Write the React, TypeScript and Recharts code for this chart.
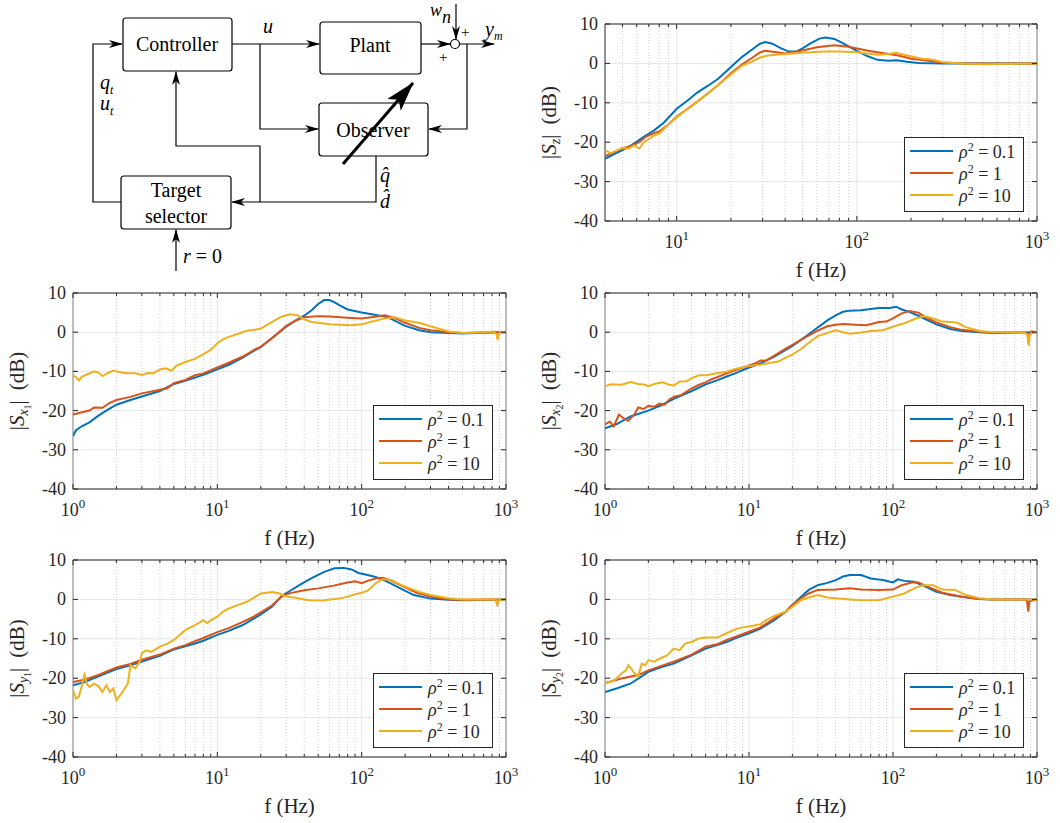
import React from 'react'
import { LineChart, Line, XAxis, YAxis, CartesianGrid, ReferenceLine, ReferenceArea, Legend } from 'recharts'

type Pt = [number, number]

const COLORS = ['#0072BD', '#D95319', '#EDB120']
const RHO = ['0.1', '1', '10']
const Y_TICKS = [-40, -30, -20, -10, 0, 10]
const X_MAJOR_FULL = [1, 10, 100, 1000]
const X_MAJOR_SZ = [10, 100, 1000]
const MINOR_FULL = [2, 3, 4, 5, 6, 7, 8, 9, 20, 30, 40, 50, 60, 70, 80, 90, 200, 300, 400, 500, 600, 700, 800, 900]
const MINOR_SZ = [5, 6, 7, 8, 9, 20, 30, 40, 50, 60, 70, 80, 90, 200, 300, 400, 500, 600, 700, 800, 900]

// |S_z|
const SZ_01: Pt[] = [[4,-24.2],[4.5,-23],[5,-22],[5.6,-20.8],[6.6,-18.6],[7.5,-17],[8.5,-15],[10,-11.5],[11.5,-9.4],[13,-7.4],[15,-5.6],[17,-3.9],[20,-0.9],[23,1.6],[26,3.4],[29,5],[31,5.4],[34,5],[38,3.8],[42,3],[46,3],[50,3.8],[55,5],[62,6.3],[67,6.6],[75,6.2],[83,5.2],[100,3.2],[115,1.8],[130,0.9],[150,0.7],[166,0.8],[190,0.4],[220,0.1],[300,0],[500,0],[1000,0]]
const SZ_1: Pt[] = [[4,-23.5],[4.5,-22.5],[5,-21.5],[5.6,-21],[6.2,-20],[6.8,-18.5],[7.5,-17.7],[8,-17.3],[9,-15.5],[10,-13.5],[11.5,-11.5],[13,-9.7],[15,-7.5],[17,-5.5],[20,-2.5],[23,-0.3],[26,1.3],[29,2.8],[31,3.2],[35,2.9],[40,2.5],[50,3.3],[60,4.1],[75,4.6],[90,4.2],[100,3.8],[120,3.1],[150,2.4],[170,2],[200,1.2],[250,0.7],[300,0.2],[400,0],[1000,0]]
const SZ_10: Pt[] = [[4,-22],[4.3,-22.8],[4.6,-22.2],[5,-21.5],[5.4,-21.6],[5.8,-20.8],[6.2,-21.6],[6.6,-20],[7,-19.2],[7.5,-18.3],[8,-17.8],[9,-15.5],[10,-13.7],[11,-12.2],[12,-11],[13,-9.7],[15,-7.5],[17,-5.5],[20,-2.8],[23,-0.6],[26,0.4],[29,1.5],[32,2],[40,2.4],[50,2.7],[65,3],[80,3],[100,2.8],[130,2.2],[150,2.4],[165,2.7],[190,2],[230,1.2],[260,1],[300,0.3],[400,-0.1],[500,-0.2],[1000,0]]

// |S_x1|
const SX1_01: Pt[] = [[1,-26.5],[1.05,-25],[1.15,-24],[1.3,-23],[1.5,-21.3],[1.7,-20],[2,-18.5],[2.5,-17.3],[3,-16.4],[4,-15],[5,-13.2],[6,-12.4],[7,-11.6],[8,-10.9],[10,-9.5],[12,-8.3],[15,-6.5],[18,-4.7],[20,-3.8],[25,-0.9],[30,1.4],[35,3],[40,4.2],[45,5.6],[50,7.2],[55,8.2],[60,8.2],[65,7.6],[70,6.9],[80,5.8],[100,5],[120,4.5],[140,4.1],[160,3.4],[200,1.6],[250,0.5],[300,0],[500,-0.3],[800,0],[1000,0]]
const SX1_1: Pt[] = [[1,-21],[1.1,-20.6],[1.3,-20],[1.4,-19.2],[1.6,-19.3],[1.8,-18],[2,-17.3],[2.5,-16.5],[3,-15.6],[4,-14.7],[4.5,-14.3],[5,-13],[6,-12.2],[7,-11],[8,-10.5],[10,-9],[12,-7.8],[15,-6.2],[18,-4.5],[20,-3.7],[25,-1],[30,1.6],[35,3],[40,3.8],[50,4.1],[60,4],[80,3.7],[100,3.5],[120,3.9],[145,4.3],[170,3.6],[200,2.4],[250,1.1],[300,0.5],[400,0],[500,-0.2],[1000,0]]
const SX1_10: Pt[] = [[1,-11],[1.05,-11.5],[1.1,-12.3],[1.15,-11.4],[1.25,-10.8],[1.4,-10],[1.5,-10.3],[1.6,-11.2],[1.75,-10.4],[1.9,-9.8],[2.1,-10.2],[2.4,-10.5],[2.7,-10.5],[3,-10.9],[3.3,-10.4],[3.6,-10.5],[4,-9.5],[4.4,-9.2],[4.8,-9.8],[5.2,-8.6],[6,-7.6],[7,-6.8],[8,-5.6],[9,-4.5],[10,-2.8],[11,-1.8],[12,-1.2],[14,-0.4],[16,0.4],[18,0.6],[20,0.9],[22,1.8],[25,3],[28,4],[32,4.6],[36,4.3],[40,3.3],[45,2.6],[55,2.2],[60,2],[70,1.9],[85,1.8],[100,2],[120,2.8],[140,3.4],[170,3.8],[200,3],[250,2.4],[300,1.5],[400,0.2],[500,-0.2],[700,0],[820,0.2],[860,-0.5],[875,-2],[890,-0.5],[920,0.1],[1000,0]]

// |S_x2|
const SX2_01: Pt[] = [[1,-24.5],[1.2,-23.5],[1.5,-21.5],[2,-20],[2.5,-18.5],[3,-17],[4,-15],[5,-13.3],[6,-12.3],[7,-11.3],[8,-10.5],[10,-9],[12,-8],[15,-6.2],[18,-4.5],[20,-3.5],[25,-1],[30,1.2],[35,3],[40,4.3],[45,5.2],[50,5.5],[60,5.6],[70,5.9],[80,6.2],[95,6.2],[105,6.5],[115,5.8],[130,5.2],[150,4.2],[170,3.2],[200,2],[250,0.8],[300,0.3],[400,0],[500,-0.2],[1000,0]]
const SX2_1: Pt[] = [[1,-23.5],[1.08,-22.8],[1.15,-24],[1.25,-21],[1.35,-22],[1.45,-22.6],[1.6,-21],[1.7,-19.2],[1.85,-19.6],[2,-18.8],[2.2,-19],[2.4,-18.2],[2.6,-18.5],[2.8,-17.2],[3,-16.5],[3.4,-16],[4,-14.3],[4.5,-13.4],[5,-12.8],[5.5,-12],[6,-11.5],[7,-10.5],[8,-9.7],[10,-8.5],[11,-8],[12,-7.2],[13,-7.3],[15,-6],[18,-4.2],[20,-3.2],[25,-1.2],[30,0.4],[35,1.5],[40,1.9],[45,2.1],[55,1.9],[65,1.8],[80,2.6],[90,2.7],[100,3.5],[115,4.8],[130,5.4],[150,5],[170,3.7],[200,2.5],[250,1.3],[300,0.6],[400,0.1],[500,0],[820,0],[860,-0.5],[870,-2.8],[885,-0.5],[920,0.2],[1000,0]]
const SX2_10: Pt[] = [[1,-13.8],[1.1,-13.3],[1.3,-13.4],[1.5,-12.7],[1.7,-13.2],[1.9,-13.4],[2,-13.8],[2.2,-13.2],[2.5,-12.8],[2.8,-13.4],[3,-13.6],[3.3,-12.6],[3.7,-12.5],[4,-11.7],[4.5,-11],[5,-11],[6,-10.5],[7,-10.1],[8,-9.4],[10,-8.6],[12,-8.3],[14,-7.8],[16,-7.5],[18,-6.5],[20,-5.7],[23,-4.3],[25,-3.2],[28,-1.8],[30,-1],[35,-0.2],[40,0.5],[45,0],[50,-0.4],[60,-0.1],[70,0.3],[85,0.5],[100,1.4],[110,1.9],[120,2.3],[140,3.3],[165,4.1],[190,3.5],[220,2.7],[250,2.6],[280,2.4],[320,1.3],[400,0.3],[500,0],[820,0],[860,-0.7],[875,-3.4],[890,-0.8],[920,-0.2],[1000,0]]

// |S_y1|
const SY1_01: Pt[] = [[1,-21.8],[1.2,-21],[1.5,-19.5],[2,-17.7],[2.5,-16.7],[3,-15.8],[4,-14.3],[5,-12.7],[6,-11.9],[7,-11.2],[8,-10.5],[10,-9],[12,-8],[15,-6.5],[18,-4.8],[20,-3.8],[24,-1.8],[28,0.9],[32,2.2],[38,3.9],[45,5.4],[55,7],[65,7.9],[75,8],[85,7.6],[95,6.7],[110,6.2],[125,5.7],[140,5],[160,4],[185,2.8],[230,1.1],[300,0.2],[400,-0.1],[500,-0.2],[1000,0]]
const SY1_1: Pt[] = [[1,-21],[1.2,-20.4],[1.5,-19.2],[2,-17.3],[2.5,-16.4],[3,-15.3],[4,-14],[5,-12.5],[6,-11.6],[7,-10.6],[8,-9.8],[10,-8.3],[12,-7.3],[15,-5.7],[18,-4.3],[20,-3.3],[24,-1.5],[28,0.8],[32,1.6],[40,2.3],[50,2.8],[64,3.5],[80,4.3],[90,4.6],[100,4.1],[110,4.7],[125,5.3],[140,5.5],[160,4.8],[185,3.6],[240,1.7],[300,0.7],[400,0],[500,-0.1],[850,0],[870,-1.2],[890,0],[1000,0]]
const SY1_10: Pt[] = [[1,-23],[1.05,-25.2],[1.1,-24.6],[1.15,-22],[1.2,-19.2],[1.25,-21.5],[1.3,-22.2],[1.4,-21.4],[1.5,-22],[1.6,-23.5],[1.7,-21.8],[1.8,-23.5],[1.9,-22.6],[2,-25.6],[2.2,-23.5],[2.4,-21.4],[2.5,-16.7],[2.7,-17.5],[2.9,-15.8],[3,-13.7],[3.2,-12.9],[3.5,-13.3],[4,-12],[4.5,-11.3],[5,-10.3],[6,-7.8],[7,-6.5],[8,-5.3],[8.5,-6],[9,-5.3],[10,-4.4],[11,-3.1],[12,-2.3],[14,-1.4],[16,-0.6],[20,1.5],[24,1.9],[27,1.5],[30,0.7],[35,0.4],[40,0],[45,-0.3],[55,-0.2],[70,0.2],[80,0.7],[90,1.3],[100,1.7],[110,2.2],[125,4.1],[140,5.1],[160,4.9],[200,3.2],[250,1.9],[300,1.1],[400,0.3],[500,0],[850,0],[870,-1.5],[890,0],[1000,0]]

// |S_y2|
const SY2_01: Pt[] = [[1,-23.5],[1.2,-22.6],[1.5,-21.4],[1.7,-20.1],[2,-18.4],[2.5,-17.1],[3,-16.3],[4,-14.2],[5,-12.5],[6,-11.6],[7,-10.8],[8,-9.9],[10,-8.6],[12,-7.4],[15,-5.3],[18,-3.1],[20,-1.4],[23,0.7],[26,2.4],[30,3.6],[35,4.2],[40,4.9],[45,5.8],[50,6.2],[60,6.2],[70,5.3],[85,4.9],[100,4.3],[108,5.1],[120,4.7],[140,4.5],[160,3.6],[200,1.9],[250,1.1],[300,0.7],[400,0.1],[500,0],[1000,0]]
const SY2_1: Pt[] = [[1,-21.2],[1.3,-20.1],[1.7,-19.2],[2,-18],[3,-15.8],[4,-14],[5,-12],[6,-11.4],[7,-10.3],[8,-9.5],[10,-8.2],[12,-7.1],[15,-4.8],[18,-3.1],[20,-1.4],[23,0.3],[26,1.5],[30,2.4],[40,2.5],[50,2.8],[60,2.5],[80,2.4],[100,2.5],[115,3.6],[135,4.3],[150,4.3],[180,3],[220,1.7],[300,0.7],[400,0.1],[500,0],[850,0],[870,-3.1],[885,-0.5],[1000,0]]
const SY2_10: Pt[] = [[1,-21.2],[1.1,-20.9],[1.2,-20.1],[1.3,-18.8],[1.4,-18],[1.45,-16.7],[1.55,-18],[1.6,-18.8],[1.7,-19.5],[1.8,-16.3],[1.9,-16.7],[2,-15.4],[2.2,-15.8],[2.4,-15],[2.7,-14.2],[3,-12.5],[3.3,-12.9],[3.6,-11.2],[4,-10.8],[4.5,-9.9],[5,-9.7],[6,-9.7],[7,-8.6],[8,-7.6],[9,-7.1],[10,-6.9],[12,-6.3],[13,-5.4],[15,-4.2],[18,-3.1],[20,-1.9],[23,-0.2],[26,0.5],[30,1.1],[35,0.5],[40,0.3],[50,0],[60,-0.2],[80,-0.2],[100,0.7],[120,1.5],[140,2.8],[160,3.6],[190,3.6],[220,2.5],[270,2.4],[320,1.1],[400,0.3],[500,0],[1000,0]]

const SERIF = 'Liberation Serif'
const AX = '#262626'

type PanelProps = {
  left: number; top: number; width: number; height: number
  margin: { top: number; right: number; bottom: number; left: number }
  xDomain: [number, number]; major: number[]; minor: number[]
  series: Pt[][]; sub: string; subsub?: string
}

const RhoLegend = () => (
  <div style={{ border: `1px solid ${AX}`, background: '#fff', width: 118, height: 71, fontFamily: '"Liberation Serif"', fontSize: 18, color: AX, paddingTop: 2 }}>
    {RHO.map((r, i) => (
      <div key={r} style={{ display: 'flex', alignItems: 'center', height: 22 }}>
        <div style={{ width: 43, height: 2.5, background: COLORS[i], marginLeft: 5, marginRight: 6 }} />
        <span><i>ρ</i><sup style={{ fontSize: 12 }}>2</sup> = {r}</span>
      </div>
    ))}
  </div>
)

const Panel = ({ left, top, width, height, margin, xDomain, major, minor, series, sub, subsub }: PanelProps) => {
  const yW = 50
  const xH = 30
  const plotL = margin.left + yW
  const plotR = width - margin.right
  const plotB = height - margin.bottom - xH
  const plotT = margin.top

  // label only on decades, inward tick marks on bottom and top edges
  const XTick = (props: any) => {
    const { x, payload } = props
    const v = payload.value
    const isMajor = major.includes(v)
    const len = isMajor ? 5 : 3
    return (
      <g>
        <line x1={x} x2={x} y1={plotB} y2={plotB - len} stroke={AX} strokeWidth={1} />
        <line x1={x} x2={x} y1={plotT} y2={plotT + len} stroke={AX} strokeWidth={1} />
        {isMajor ? (
          <text x={x} y={plotB + 27} textAnchor="middle" fontFamily={SERIF} fontSize={18} fill={AX}>
            <tspan>10</tspan>
            <tspan dy={-8} fontSize={13}>{Math.round(Math.log10(v))}</tspan>
          </text>
        ) : null}
      </g>
    )
  }

  const YTick = (props: any) => {
    const { y, payload } = props
    return (
      <g>
        <line x1={plotL} x2={plotL + 5} y1={y} y2={y} stroke={AX} strokeWidth={1} />
        <line x1={plotR} x2={plotR - 5} y1={y} y2={y} stroke={AX} strokeWidth={1} />
        <text x={plotL - 7} y={y + 6} textAnchor="end" fontFamily={SERIF} fontSize={18} fill={AX}>
          {payload.value}
        </text>
      </g>
    )
  }

  return (
    <div style={{ position: 'absolute', left, top }}>
      <LineChart width={width} height={height} margin={margin}>
        <CartesianGrid stroke="#e6e6e6" strokeWidth={1} vertical={false} />
        {major.map(v => (
          <ReferenceLine key={'M' + v} x={v} stroke="#e6e6e6" strokeWidth={1} />
        ))}
        {minor.map(v => (
          <ReferenceLine key={v} x={v} stroke="#d2d2d2" strokeDasharray="1 2" strokeWidth={1} />
        ))}
        <XAxis type="number" dataKey="f" scale="log" domain={xDomain} ticks={[...major, ...minor]} allowDataOverflow
          height={xH} axisLine={false} tickLine={false} tick={<XTick />} interval={0}
          label={{ content: () => (
            <text x={(plotL + plotR) / 2} y={plotB + 56} textAnchor="middle" fontFamily={SERIF} fontSize={21} fill={AX}>f (Hz)</text>
          ) }} />
        <YAxis type="number" domain={[-40, 10]} ticks={Y_TICKS} width={yW} axisLine={false} tickLine={false}
          tick={<YTick />} interval={0}
          label={{ content: () => (
            <text transform={`translate(${margin.left + 1}, ${(plotT + plotB) / 2}) rotate(-90)`} textAnchor="middle"
              fontFamily={SERIF} fontSize={21} fill={AX}>
              <tspan>|</tspan>
              <tspan fontStyle="italic">S</tspan>
              <tspan fontStyle="italic" fontSize={14} dy={4}>{sub}</tspan>
              {subsub ? <tspan fontSize={10} dy={3}>{subsub}</tspan> : null}
              <tspan dy={subsub ? -7 : -4}>|</tspan>
              <tspan dx={10}>(dB)</tspan>
            </text>
          ) }} />
        <ReferenceArea x1={xDomain[0]} x2={xDomain[1]} y1={-40} y2={10} fill="none" stroke={AX} strokeWidth={1} />
        {series.map((pts, i) => (
          <Line key={i} data={pts.map(([f, v]) => ({ f, v }))} dataKey="v" type="linear" dot={false}
            stroke={COLORS[i]} strokeWidth={2} isAnimationActive={false} />
        ))}
        <Legend layout="vertical" align="center" verticalAlign="middle" content={() => <RhoLegend />}
          wrapperStyle={{ position: 'absolute', left: plotR - 133, top: plotB - 84, width: 120, height: 73 }} />
      </LineChart>
    </div>
  )
}

const Diagram = () => {
  const ln = { fill: 'none', stroke: '#000', strokeWidth: 1.2 }
  const box = { fill: '#fff', stroke: '#000', strokeWidth: 1.2 }
  const t = { fontFamily: SERIF, fontSize: 20, fill: '#000' }
  const it = { ...t, fontStyle: 'italic' as const }
  return (
    <svg width={530} height={280} style={{ position: 'absolute', left: 0, top: 0 }}>
      <defs>
        <marker id="ah" markerWidth={14} markerHeight={8} refX={13} refY={4} orient="auto" markerUnits="userSpaceOnUse">
          <path d="M0,0 L14,4 L0,8 L4,4 z" fill="#000" />
        </marker>
        <marker id="big" markerWidth={30} markerHeight={18} refX={29} refY={9} orient="auto" markerUnits="userSpaceOnUse">
          <path d="M0,0 L30,9 L0,18 L7,9 z" fill="#000" />
        </marker>
      </defs>
      <polyline points="232,44 319,44" {...ln} markerEnd="url(#ah)" />
      <polyline points="260,44 260,129 318,129" {...ln} markerEnd="url(#ah)" />
      <polyline points="421,44 450,44" {...ln} markerEnd="url(#ah)" />
      <polyline points="459,44 494,44" {...ln} markerEnd="url(#ah)" />
      <polyline points="467,44 467,129 429,129" {...ln} markerEnd="url(#ah)" />
      <polyline points="456,4 456,39" {...ln} markerEnd="url(#ah)" />
      <polyline points="376,156 376,202 232,202" {...ln} markerEnd="url(#ah)" />
      <polyline points="260,202 260,146 176,146 176,72" {...ln} markerEnd="url(#ah)" />
      <polyline points="121,202 93,202 93,44 122,44" {...ln} markerEnd="url(#ah)" />
      <polyline points="176,271 176,230" {...ln} markerEnd="url(#ah)" />
      <rect x={123} y={18} width={109} height={53} rx={3} {...box} />
      <rect x={320} y={22} width={101} height={52} rx={3} {...box} />
      <rect x={319} y={103} width={109} height={53} rx={3} {...box} />
      <rect x={121} y={176} width={110} height={53} rx={3} {...box} />
      <circle cx={455} cy={44} r={4.5} fill="#fff" stroke="#000" strokeWidth={1.2} />
      <text x={177} y={51} textAnchor="middle" {...t}>Controller</text>
      <text x={370} y={52} textAnchor="middle" {...t}>Plant</text>
      <text x={373} y={137} textAnchor="middle" {...t}>Observer</text>
      <text x={176} y={197} textAnchor="middle" {...t}>Target</text>
      <text x={176} y={223} textAnchor="middle" {...t}>selector</text>
      <line x1={343} y1={164} x2={413} y2={83} stroke="#000" strokeWidth={3} markerEnd="url(#big)" />
      <text x={263} y={33} {...it}>u</text>
      <text x={430} y={16} {...it} fontSize={18}>w</text>
      <text x={442} y={23} {...it} fontSize={18}>n</text>
      <text x={461} y={37} {...t} fontSize={15}>+</text>
      <text x={439} y={62} {...t} fontSize={15}>+</text>
      <text x={485} y={36} {...it}>y<tspan fontSize={12} dy={4}>m</tspan></text>
      <text x={100} y={89} {...it}>q<tspan fontSize={12} dy={5}>t</tspan></text>
      <text x={100} y={110} {...it}>u<tspan fontSize={12} dy={5}>t</tspan></text>
      <text x={380} y={182} {...it}>{'q\u0302'}</text>
      <text x={380} y={208} {...it}>{'d\u0302'}</text>
      <text x={183} y={263} {...t}><tspan fontStyle="italic">r</tspan> = 0</text>
    </svg>
  )
}

export default function App() {
  return (
    <div style={{ position: 'absolute', left: 0, top: 0, width: 1060, height: 823, background: '#fff', fontFamily: '"Liberation Serif"' }}>
      <Diagram />
      <Panel left={530} top={0} width={530} height={290} margin={{ top: 24, right: 23, bottom: 39, left: 25 }}
        xDomain={[4, 1000]} major={X_MAJOR_SZ} minor={MINOR_SZ} series={[SZ_01, SZ_1, SZ_10]} sub="z" />
      <Panel left={0} top={280} width={530} height={276} margin={{ top: 13, right: 24, bottom: 37, left: 23 }}
        xDomain={[1, 1000]} major={X_MAJOR_FULL} minor={MINOR_FULL} series={[SX1_01, SX1_1, SX1_10]} sub="x" subsub="1" />
      <Panel left={530} top={280} width={530} height={276} margin={{ top: 13, right: 23, bottom: 37, left: 25 }}
        xDomain={[1, 1000]} major={X_MAJOR_FULL} minor={MINOR_FULL} series={[SX2_01, SX2_1, SX2_10]} sub="x" subsub="2" />
      <Panel left={0} top={547} width={530} height={276} margin={{ top: 13, right: 24, bottom: 36, left: 23 }}
        xDomain={[1, 1000]} major={X_MAJOR_FULL} minor={MINOR_FULL} series={[SY1_01, SY1_1, SY1_10]} sub="y" subsub="1" />
      <Panel left={530} top={547} width={530} height={276} margin={{ top: 13, right: 23, bottom: 36, left: 25 }}
        xDomain={[1, 1000]} major={X_MAJOR_FULL} minor={MINOR_FULL} series={[SY2_01, SY2_1, SY2_10]} sub="y" subsub="2" />
    </div>
  )
}
